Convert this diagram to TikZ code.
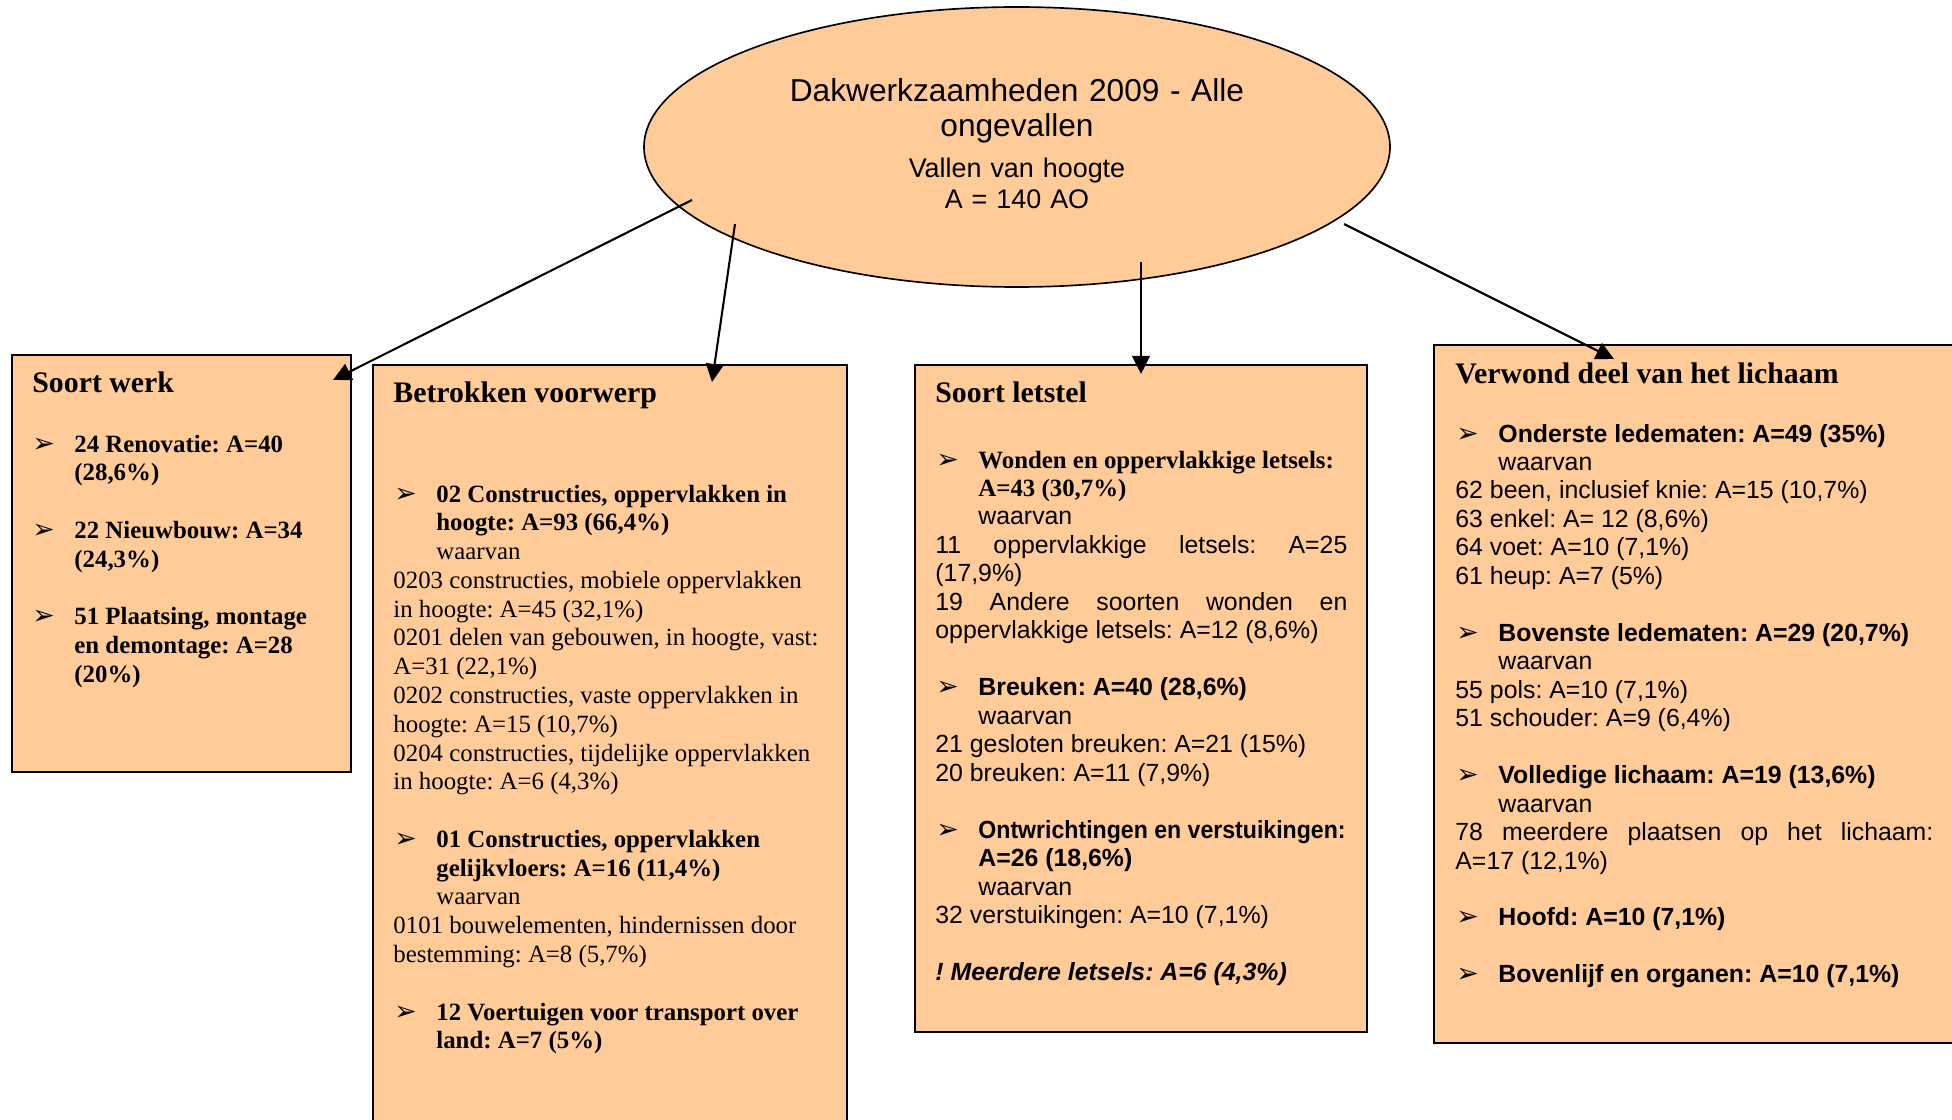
\documentclass[tikz,border=0pt]{standalone}
\usepackage{fontspec}
\usepackage{graphicx}
\setmainfont{Liberation Serif}
\newfontfamily\arialf{Liberation Sans}
\newfontfamily\dejavuf{DejaVu Sans}
\usetikzlibrary{arrows.meta,shapes.geometric}
\newlength\px
\setlength\px{0.483pt}
\definecolor{peach}{HTML}{FFCC99}
\frenchspacing
\newcommand\bul{{\dejavuf\fontsize{13}{10}\selectfont ➢}}
\newcommand\itm{\makebox[43\px][l]{\hspace*{1\px}\bul}}
\newcommand\indt{\hspace*{43\px}}
\newcommand\gp{\\[\baselineskip]}
\newcommand\jline[2]{\makebox[#1\px][s]{#2}}
\begin{document}
\begin{tikzpicture}[x=0.483pt,y=-0.483pt,
  box/.style={draw=black, line width=1pt, fill=peach, anchor=north west, inner sep=0pt, outer sep=0pt},
  head/.style={anchor=base west, inner sep=0pt, font=\rmfamily\bfseries\fontsize{14.4}{16}\selectfont},
  body/.style={anchor=base west, inner sep=0pt, align=flush left},
  conn/.style={line width=1pt, -{Triangle[length=8.7pt,width=8.5pt]}}]
\useasboundingbox (0,0) rectangle (1952,1120);
\clip (0,0) rectangle (1952,1120);

% central ellipse
\node[draw=black, line width=0.8pt, fill=peach, ellipse, minimum width=746*\px, minimum height=280*\px, inner sep=0pt] (top) at (1017,147) {};
\node[anchor=base, inner sep=0pt, text width=700*\px, align=center, font=\arialf\fontsize{15.3}{16.9}\selectfont] (title) at (1017,102) {Dakwerkzaamheden 2009 - Alle\\ongevallen};
\node[anchor=base, inner sep=0pt, text width=700*\px, align=center, font=\arialf\fontsize{13}{14.5}\selectfont] (sub) at (1017,178) {Vallen van hoogte\\A = 140 AO};

% boxes
\node[box, minimum width=339*\px, minimum height=417*\px] (werk) at (12,355) {};
\node[box, minimum width=474*\px, minimum height=775*\px] (voorwerp) at (373,365) {};
\node[box, minimum width=452*\px, minimum height=667*\px] (letstel) at (915,365) {};
\node[box, minimum width=540*\px, minimum height=698*\px] (lichaam) at (1434,345) {};

% headings
\node[head] (h1) at (32,392) {Soort werk};
\node[head] (h2) at (393,402) {Betrokken voorwerp};
\node[head] (h3) at (935,402) {Soort letstel};
\node[head] (h4) at (1455,383) {Verwond deel van het lichaam};

% box 1
\node[body, text width=310*\px, font=\rmfamily\bfseries\fontsize{12}{13.9}\selectfont] (b1) at (31,452) {%
\itm 24 Renovatie: A=40\\
\indt (28,6\%)\gp
\itm 22 Nieuwbouw: A=34\\
\indt (24,3\%)\gp
\itm 51 Plaatsing, montage\\
\indt en demontage: A=28\\
\indt (20\%)};

% box 2
\node[body, text width=450*\px, font=\rmfamily\fontsize{12}{13.9}\selectfont] (b2) at (393,502) {%
\itm\textbf{02 Constructies, oppervlakken in}\\
\indt\textbf{hoogte: A=93 (66,4\%)}\\
\indt waarvan\\
0203 constructies, mobiele oppervlakken\\
in hoogte: A=45 (32,1\%)\\
0201 delen van gebouwen, in hoogte, vast:\\
A=31 (22,1\%)\\
0202 constructies, vaste oppervlakken in\\
hoogte: A=15 (10,7\%)\\
0204 constructies, tijdelijke oppervlakken\\
in hoogte: A=6 (4,3\%)\gp
\itm\textbf{01 Constructies, oppervlakken}\\
\indt\textbf{gelijkvloers: A=16 (11,4\%)}\\
\indt waarvan\\
0101 bouwelementen, hindernissen door\\
bestemming: A=8 (5,7\%)\gp
\itm\textbf{12 Voertuigen voor transport over}\\
\indt\textbf{land: A=7 (5\%)}};

% box 3
\node[body, text width=430*\px, font=\arialf\fontsize{12}{13.75}\selectfont] (b3) at (935,468) {%
\itm{\rmfamily\bfseries Wonden en oppervlakkige letsels:}\\
\indt{\rmfamily\bfseries A=43 (30,7\%)}\\
\indt waarvan\\
\jline{412}{11\hfill oppervlakkige\hfill letsels:\hfill A=25}\\
(17,9\%)\\
\jline{412}{19\hfill Andere\hfill soorten\hfill wonden\hfill en}\\
oppervlakkige letsels: A=12 (8,6\%)\gp
\itm\textbf{Breuken: A=40 (28,6\%)}\\
\indt waarvan\\
21 gesloten breuken: A=21 (15\%)\\
20 breuken: A=11 (7,9\%)\gp
\itm\makebox[367\px][l]{\scalebox{0.93}[1]{\bfseries Ontwrichtingen en verstuikingen:}}\\
\indt\textbf{A=26 (18,6\%)}\\
\indt waarvan\\
32 verstuikingen: A=10 (7,1\%)\gp
\textbf{\itshape ! Meerdere letsels: A=6 (4,3\%)}};

% box 4
\node[body, text width=490*\px, font=\arialf\fontsize{12}{13.75}\selectfont] (b4) at (1455,442) {%
\itm\textbf{Onderste ledematen: A=49 (35\%)}\\
\indt waarvan\\
62 been, inclusief knie: A=15 (10,7\%)\\
63 enkel: A= 12 (8,6\%)\\
64 voet: A=10 (7,1\%)\\
61 heup: A=7 (5\%)\gp
\itm\textbf{Bovenste ledematen: A=29 (20,7\%)}\\
\indt waarvan\\
55 pols: A=10 (7,1\%)\\
51 schouder: A=9 (6,4\%)\gp
\itm\textbf{Volledige lichaam: A=19 (13,6\%)}\\
\indt waarvan\\
\jline{478}{78\hfill meerdere\hfill plaatsen\hfill op\hfill het\hfill lichaam:}\\
A=17 (12,1\%)\gp
\itm\textbf{Hoofd: A=10 (7,1\%)}\gp
\itm\textbf{Bovenlijf en organen: A=10 (7,1\%)}};

% connectors
\coordinate (s1) at (692,200); \coordinate (e1) at (333,380);
\coordinate (s2) at (735,224); \coordinate (e2) at (712,382);
\coordinate (s3) at (1141,262); \coordinate (e3) at (1141,374);
\coordinate (s4) at (1344,224); \coordinate (e4) at (1614,359);
\draw[conn] (s1) -- (e1);
\draw[conn] (s2) -- (e2);
\draw[conn] (s3) -- (e3);
\draw[conn] (s4) -- (e4);
\end{tikzpicture}
\end{document}
